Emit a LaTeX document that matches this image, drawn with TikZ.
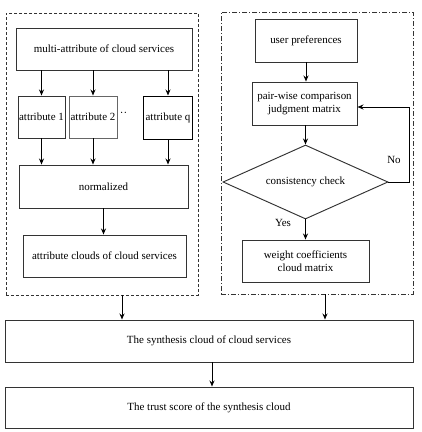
\documentclass[tikz,border=0pt]{standalone}
\usepackage{fontspec}
\setmainfont{Liberation Serif}
\usetikzlibrary{shapes.geometric,arrows.meta}
\begin{document}
\begin{tikzpicture}[x=1bp,y=-1bp,
  box/.style={draw=black!80,line width=0.95bp,rectangle,inner sep=1bp,align=center,font=\fontsize{11}{12.5}\selectfont},
  grpl/.style={draw=black!80,line width=0.9bp,dash pattern=on 3bp off 2bp,rectangle,inner sep=0},
  grpr/.style={draw=black!80,line width=0.9bp,dash pattern=on 5bp off 2bp on 1bp off 2bp,rectangle,inner sep=0},
  arr/.style={line width=0.9bp,-{Stealth[length=6bp,width=5bp]}},
  lbl/.style={font=\fontsize{11}{12.5}\selectfont,inner sep=0}]
\useasboundingbox (0,0) rectangle (422,432);
% groups
\node[grpl,minimum width=192bp,minimum height=282bp] (leftbox) at (102,154) {};
\node[grpr,minimum width=192bp,minimum height=282bp] (rightbox) at (317,153) {};
% left column
\node[box,minimum width=176bp,minimum height=42bp] (multi) at (104,49) {multi-attribute of cloud services};
\node[box,minimum width=47bp,minimum height=42bp,inner sep=0] (a1) at (41.5,117) {attribute 1};
\node[box,draw=black!60,minimum width=48bp,minimum height=42bp,inner sep=0] (a2) at (93,117) {attribute 2};
\node[lbl] (dots) at (123.5,114) {··};
\node[box,draw=black,line width=1.0bp,minimum width=48bp,minimum height=43bp,inner sep=0] (aq) at (168,117.5) {attribute q};
\node[box,minimum width=169bp,minimum height=43bp] (norm) at (103.5,186.5) {normalized};
\node[box,minimum width=163bp,minimum height=42bp] (clouds) at (104.5,256) {attribute clouds of cloud services};
% right column
\node[box,minimum width=102bp,minimum height=43bp] (up) at (306,40.5) {user preferences};
\node[box,minimum width=105bp,minimum height=43bp] (pw) at (304.5,103.5) {pair-wise comparison\\judgment matrix};
\node[box,diamond,aspect=2.2,inner sep=0,minimum width=165bp,minimum height=74bp] (chk) at (305.5,182) {consistency check};
\node[box,minimum width=127bp,minimum height=42bp] (wc) at (305.5,261) {weight coefficients\\cloud matrix};
% bottom
\node[box,minimum width=408bp,minimum height=42bp] (synth) at (209,341) {The synthesis cloud of cloud services};
\node[box,minimum width=408bp,minimum height=41bp] (trust) at (209,407.5) {The trust score of the synthesis cloud};
% arrows left
\draw[arr] (multi.south -| a1.north) -- (a1.north);
\draw[arr] (multi.south -| a2.north) -- (a2.north);
\draw[arr] (multi.south -| aq.north) -- (aq.north);
\draw[arr] (a1.south) -- (a1.south |- norm.north);
\draw[arr] (a2.south) -- (a2.south |- norm.north);
\draw[arr] (aq.south) -- (aq.south |- norm.north);
\draw[arr] (norm.south) -- (norm.south |- clouds.north);
% arrows right
\draw[arr] (up.south) -- (up.south |- pw.north);
\draw[arr] (pw.south -| chk.north) -- (chk.north);
\draw[arr] (chk.south) -- (chk.south |- wc.north);
\coordinate (loop) at (409,182);
\draw[arr] (chk.east) -- (loop) |- ([yshift=-3.5bp]pw.east);
\node[lbl] (no) at (394,160) {No};
\node[lbl] (yes) at (283,223) {Yes};
% bottom arrows
\draw[arr] ([xshift=20bp]leftbox.south) -- ([xshift=20bp]leftbox.south |- synth.north);
\draw[arr] ([xshift=8bp]rightbox.south) -- ([xshift=8bp]rightbox.south |- synth.north);
\draw[arr] ([xshift=3bp]synth.south) -- ([xshift=3bp]synth.south |- trust.north);
\end{tikzpicture}
\end{document}
